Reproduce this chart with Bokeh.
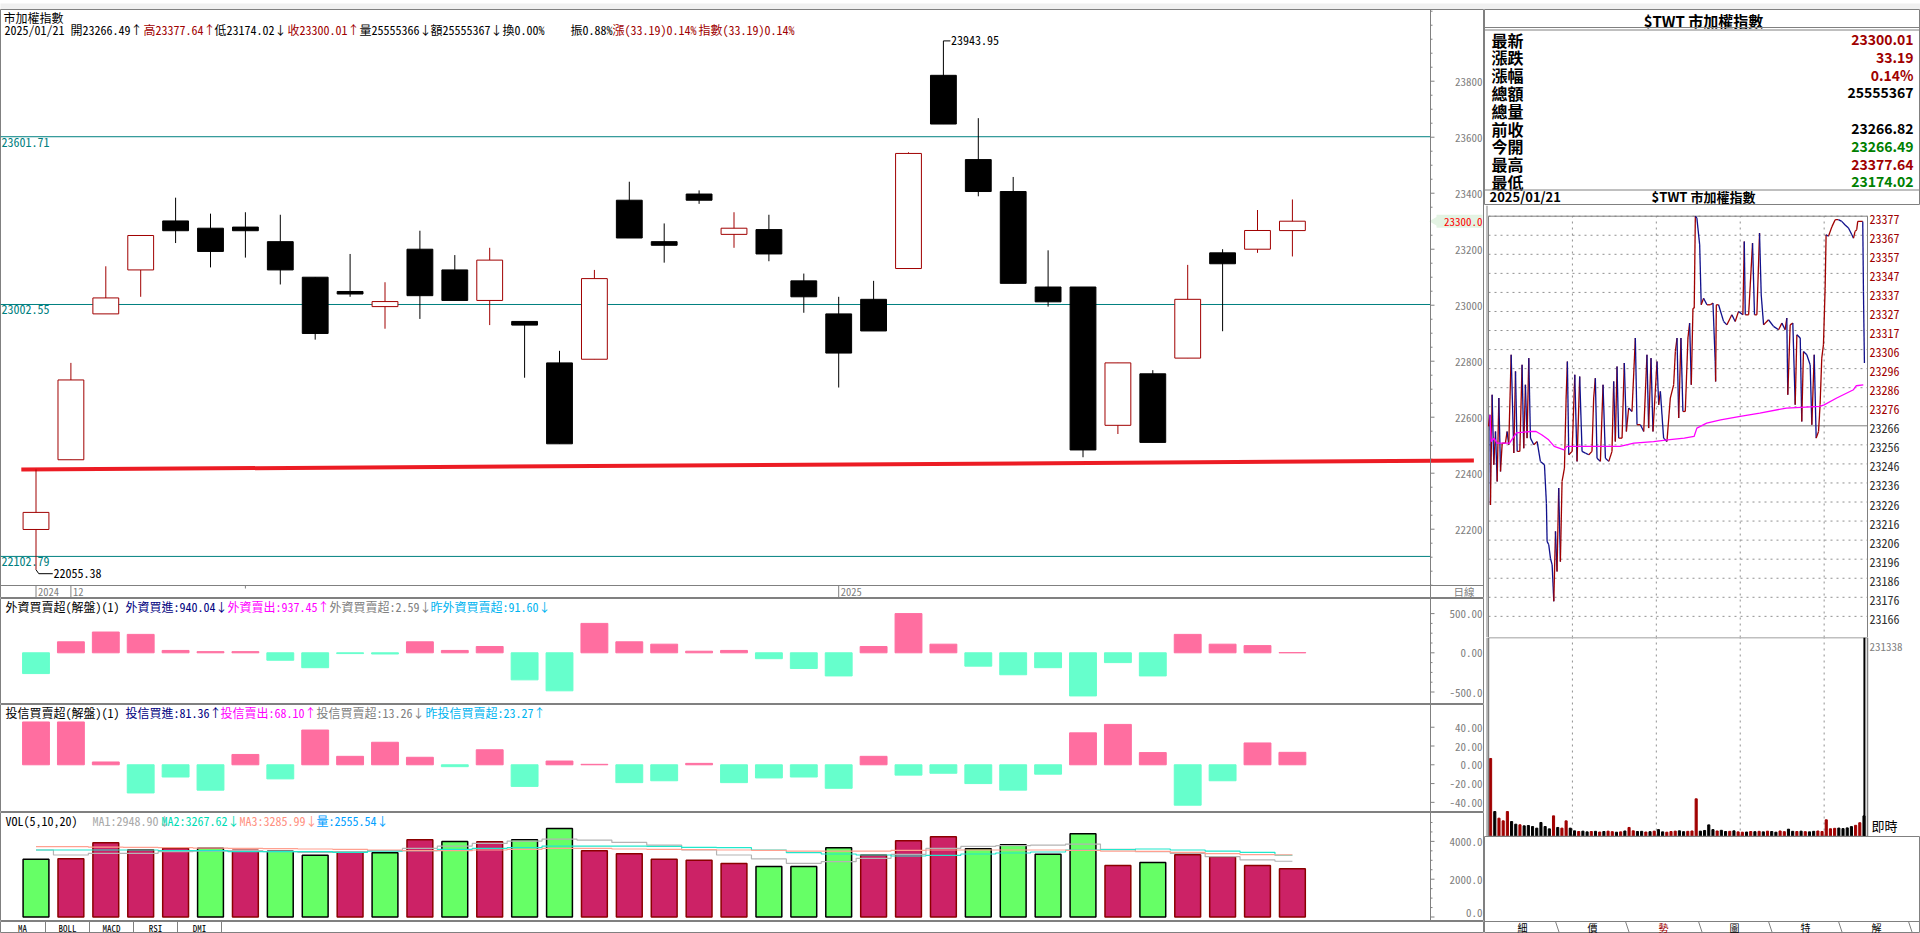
import numpy as np
from bokeh.plotting import figure
from bokeh.models import Range1d, ColumnDataSource, Span
from bokeh.layouts import column, row
from bokeh.embed import file_html
from bokeh.resources import INLINE
from bokeh.core.properties import value

FONT = "Noto Sans CJK TC"
MONO = "Noto Sans Mono CJK TC"
GRAY = "#808080"
DRED = "#a00000"

# ---------------- daily data (37 sessions, last = 2025/01/21) ----------------
opens = [22199, 22448, 22969, 23126, 23301, 23275, 23279, 23227, 23100, 23049,
         22995, 23200, 23126, 23017, 22942, 22794, 22807, 23375, 23227, 23397,
         23253, 23270, 23087, 22969, 23021, 23131, 23821, 23520, 23406, 23065,
         23065, 22571, 22755, 22811, 23187, 23200, 23266.49]
highs = [22413, 22794, 23139, 23250, 23384, 23327, 23332, 23323, 23100, 23183,
         23082, 23266, 23179, 23205, 22942, 22837, 23126, 23441, 23292, 23410,
         23332, 23323, 23113, 23030, 23087, 23546, 23943.95, 23668, 23458, 23196,
         23065, 22794, 22768, 23144, 23200, 23340, 23377.64]
lows = [22055.38, 22448, 22969, 23030, 23222, 23135, 23170, 23074, 22877, 23030,
        22916, 22951, 23017, 22929, 22741, 22505, 22807, 23240, 23152, 23362,
        23205, 23157, 22973, 22706, 22908, 23131, 23647, 23389, 23078, 22995,
        22457, 22540, 22510, 22811, 22907, 23187, 23174.02]
closes = [22260, 22733, 23026, 23249, 23266, 23192, 23266, 23126, 22899, 23040,
          23013, 23034, 23017, 23161, 22929, 22505, 23095, 23240, 23214, 23375,
          23275, 23183, 23030, 22829, 22908, 23542, 23647, 23406, 23078, 23012,
          22483, 22794, 22510, 23021, 23148, 23266.82, 23300.01]
date_tick_idx = [0, 1, 23]
date_tick_text = ["2024", "12", "2025"]
price_ticks = [22200, 22400, 22600, 22800, 23000, 23200, 23400, 23600, 23800]
ref_levels = [23601.71, 23002.55, 22102.79]
trend_x = [-0.42, 41.2]
trend_y = [22413, 22445]

foreign_net = [-265, 140, 265, 235, 30, 15, 15, -95, -190, -10, -15, 140, 30, 80, -345,
               -485, 375, 140, 110, 20, 30, -75, -200, -295, 80, 500, 110, -170, -280,
               -190, -550, -125, -295, 235, 110, 91.6, 2.59]
foreign_ticks = [500, 0, -500]
foreign_tick_text = ["500.00", "0.00", "-500.0"]
trust_net = [45.6, 45.6, 3, -30, -13, -27, 11, -15, 37, 9, 24, 8, -2, 16, -23, 4, 0.5,
             -19, -17, 1.5, -19, -14, -13, -25, 9, -11, -9, -20, -27, -10, 34, 43, 13,
             -43, -17, 23.27, 13.26]
trust_ticks = [40, 20, 0, -20, -40]
trust_tick_text = ["40.00", "20.00", "0.00", "-20.00", "-40.00"]
volumes = [3052, 3087, 3929, 3561, 3631, 3631, 3526, 3473, 3263, 3455, 3403, 4087, 3999,
           3982, 4087, 4683, 3508, 3350, 3052, 3000, 2824, 2666, 2666, 3666, 3280, 4034,
           4245, 3613, 3824, 3315, 4403, 2719, 2877, 3298, 3193, 2719, 2555.54]
vol_up = [0, 1, 1, 1, 1, 0, 1, 0, 0, 1, 0, 1, 0, 1, 0, 0, 1, 1, 1, 1, 1, 0, 0, 0, 1, 1, 1,
          0, 0, 0, 0, 1, 0, 1, 1, 1, 1]
vol_ma5 = [3543, 3280, 3368, 3368, 3455, 3490, 3508, 3455, 3420, 3455, 3508, 3631, 3754,
           3894, 4017, 4122, 4069, 3947, 3806, 3543, 3280, 3070, 2841, 2929, 3105, 3315,
           3631, 3736, 3771, 3806, 3859, 3578, 3455, 3368, 3192, 3017, 2948.90]
vol_ma10 = [3543, 3543, 3543, 3543, 3508, 3508, 3455, 3455, 3455, 3420, 3490, 3508, 3578,
            3631, 3666, 3754, 3754, 3754, 3736, 3683, 3666, 3543, 3403, 3333, 3280, 3227,
            3262, 3333, 3385, 3438, 3543, 3561, 3596, 3543, 3490, 3420, 3267.62]
vol_ma20 = [3719, 3719, 3701, 3683, 3666, 3648, 3631, 3613, 3596, 3578, 3543, 3508, 3508,
            3543, 3578, 3631, 3631, 3596, 3578, 3561, 3543, 3526, 3490, 3490, 3490, 3526,
            3543, 3543, 3543, 3543, 3526, 3490, 3473, 3420, 3350, 3297, 3285.99]
vol_ticks = [4000, 2000, 0]
vol_tick_text = ["4000.0", "2000.0", "0.0"]

# ---------------- intraday data (minutes after 09:00) ----------------
intra_min = [0.0, 1.0, 1.4, 2.6, 3.8, 5.0, 6.2, 7.4, 8.6, 9.8, 12.1, 13.3, 14.5, 16.2, 18.1,
             19.3, 20.5, 22.4, 24.0, 25.2, 26.4, 27.6, 28.8, 30.0, 32.4, 34.8, 37.1, 40.0,
             41.4, 41.9, 43.1, 44.3, 45.5, 46.7, 47.9, 49.0, 50.2, 51.4, 52.6, 54.3, 55.5,
             56.4, 57.4, 59.8, 61.7, 63.3, 65.2, 66.9, 69.3, 71.7, 74.0, 75.2, 76.4, 77.6,
             80.0, 81.9, 83.6, 86.0, 88.3, 89.5, 90.7, 91.9, 93.1, 95.5, 97.1, 98.6, 100.2,
             102.6, 105.0, 106.2, 108.6, 111.0, 113.3, 114.5, 116.2, 117.6, 120.5, 121.7,
             122.9, 125.2, 127.6, 130.0, 132.4, 133.6, 134.8, 136.0, 137.6, 139.0, 140.7,
             142.6, 143.8, 145.0, 146.2, 147.1, 147.9, 149.0, 151.0, 152.1, 153.8, 156.2,
             158.6, 160.5, 162.1, 162.4, 162.9, 164.5, 168.1, 170.5, 174.0, 176.4, 178.8,
             181.9, 182.9, 183.6, 186.0, 188.8, 190.2, 191.9, 193.8, 195.0, 196.7, 200.2,
             203.8, 207.4, 209.8, 212.1, 213.3, 214.0, 215.7, 217.6, 219.3, 220.5, 222.9,
             224.0, 225.2, 227.6, 230.0, 231.2, 232.9, 234.3, 236.0, 237.1, 238.3, 239.5,
             240.7, 241.4, 243.1, 245.5, 247.9, 250.2, 252.6, 255.0, 257.4, 259.8, 261.0,
             262.1, 263.3, 264.0, 267.6, 268.1, 268.8]
intra_px = [23266.5, 23272.6, 23225.0, 23283.2, 23246.2, 23263.8, 23237.4, 23281.5, 23242.7,
            23257.7, 23257.7, 23263.8, 23256.8, 23304.4, 23252.4, 23295.6, 23253.3, 23253.3,
            23299.1, 23255.0, 23288.5, 23260.3, 23302.6, 23260.3, 23256.8, 23258.5, 23248.0,
            23246.2, 23225.9, 23205.7, 23203.9, 23196.8, 23193.3, 23174.0, 23211.0, 23189.8,
            23233.9, 23195.0, 23237.4, 23244.4, 23281.5, 23300.8, 23251.5, 23253.3, 23293.8,
            23248.0, 23292.9, 23253.3, 23252.4, 23251.5, 23253.3, 23281.5, 23292.0, 23249.7,
            23248.0, 23288.5, 23249.7, 23248.0, 23253.3, 23290.3, 23258.5, 23298.2, 23260.3,
            23260.3, 23300.0, 23263.8, 23276.2, 23274.4, 23313.2, 23267.4, 23267.4, 23263.8,
            23304.4, 23265.6, 23302.6, 23263.8, 23300.8, 23277.9, 23285.0, 23260.3, 23258.5,
            23281.5, 23288.5, 23306.1, 23313.2, 23270.9, 23313.2, 23274.4, 23274.4, 23313.2,
            23321.1, 23288.5, 23329.0, 23329.0, 23377.6, 23376.6, 23362.5, 23330.8, 23334.3,
            23330.8, 23330.8, 23331.7, 23300.8, 23290.3, 23330.8, 23330.8, 23322.0, 23320.2,
            23325.5, 23322.0, 23327.3, 23325.5, 23364.3, 23325.5, 23325.5, 23363.4, 23325.5,
            23325.5, 23368.7, 23336.0, 23320.2, 23322.9, 23319.4, 23317.6, 23321.1, 23317.6,
            23323.8, 23283.2, 23320.2, 23321.1, 23277.9, 23315.0, 23313.2, 23269.1, 23306.1,
            23304.4, 23299.1, 23267.4, 23304.4, 23260.3, 23263.8, 23277.9, 23302.6, 23309.7,
            23339.6, 23367.8, 23367.0, 23372.0, 23375.8, 23375.8, 23374.9, 23373.0, 23371.4,
            23367.8, 23366.0, 23369.6, 23370.5, 23374.9, 23374.9, 23337.9, 23300.0]
avg_min = [1, 2, 4, 6, 15, 20, 30, 34, 38, 43, 47, 54, 56, 66, 94, 104, 118, 128, 140, 147,
           149, 156, 166, 180, 194, 213, 237, 240, 249, 261, 263, 268]
avg_px = [23272.6, 23258.5, 23260.3, 23257.7, 23257.7, 23263.1, 23263.8, 23263.8, 23262.1,
          23259.4, 23255.9, 23254.1, 23255.9, 23255.9, 23255.9, 23257.7, 23258.5, 23259.4,
          23260.3, 23261.2, 23265.6, 23268.2, 23270.0, 23271.8, 23273.5, 23276.2, 23277.1,
          23277.9, 23281.5, 23285.9, 23288.0, 23288.5]
intra_vol = [90700, 29000, 21300, 18200, 29000, 17400, 14300, 13600, 12400, 12800,
             11600, 9700, 16300, 11600, 8900, 24000, 10500, 9700, 18200, 9700,
             6600, 5800, 6200, 5400, 5800, 6000, 5200, 5800, 6200, 5600,
             5000, 5400, 6400, 10500, 6600, 5800, 6000, 5200, 5600, 6200,
             8000, 5400, 5000, 5800, 6200, 6600, 5600, 6000, 6400, 43800,
             6200, 7000, 13500, 8000, 6400, 7200, 5800, 6000, 6600, 5400,
             5000, 5200, 5800, 5600, 6000, 5400, 6200, 5800, 5000, 6400,
             5600, 8500, 6000, 5800, 6200, 5600, 5400, 6000, 6400, 5800,
             19400, 9000, 9500, 9800, 9200, 10000, 11500, 13000, 16000, 24000]
prev_close = 23266.82
day_high = 23377.64
session_minutes = 271
intra_vol_max = 231338
intra_tick_labels = ["23377", "23367", "23357", "23347", "23337", "23327", "23317", "23306",
                     "23296", "23286", "23276", "23266", "23256", "23246", "23236", "23226",
                     "23216", "23206", "23196", "23186", "23176", "23166"]
info_labels = ["最新", "漲跌", "漲幅", "總額", "總量", "前收", "今開", "最高", "最低"]
info_values = ["23300.01", "33.19", "0.14%", "25555367", "", "23266.82", "23266.49",
               "23377.64", "23174.02"]
info_colors = [DRED, DRED, DRED, "black", "black", "black", "#008000", DRED, "#008000"]


# ---------------- helpers ----------------
def make_fig(w, h, xr, yr, bg="white", outline=GRAY):
    p = figure(width=w, height=h, x_range=Range1d(*xr), y_range=Range1d(*yr),
               toolbar_location=None, output_backend="svg",
               x_axis_location=None, y_axis_location=None,
               min_border_top=0, min_border_right=0, min_border_bottom=0, min_border_left=0,
               background_fill_color=bg, border_fill_color=bg,
               outline_line_color=outline, outline_line_width=1)
    p.xgrid.visible = False
    p.ygrid.visible = False
    return p


class Geo:
    """maps pixel offsets inside a frame (from its top-left) to data values"""
    def __init__(self, xr, yr, fw, fh):
        self.xr, self.yr, self.fw, self.fh = xr, yr, fw, fh

    def x(self, px):
        return self.xr[0] + (self.xr[1] - self.xr[0]) * px / self.fw

    def y(self, py):
        return self.yr[1] - (self.yr[1] - self.yr[0]) * py / self.fh


def texts(p, xs, ys, txt, colors, size="12px", font=MONO, align="left", baseline="middle",
          bold=False, yoff=0):
    n_ = len(txt)
    src = ColumnDataSource(dict(x=list(xs), y=list(ys), t=list(txt), c=list(colors),
                                yo=[yoff] * n_ if np.isscalar(yoff) else list(yoff)))
    p.text(x="x", y="y", text="t", text_color="c", source=src, text_font=value(font),
           text_font_size=value(size), text_align=align, text_baseline=baseline,
           text_font_style="bold" if bold else "normal", y_offset="yo")


def header(p, geo, segs, py, size="12px"):
    texts(p, [geo.x(s[1]) for s in segs], [geo.y(py)] * len(segs), [s[0] for s in segs],
          [s[2] for s in segs], size=size)


AX_PX = 1430   # price-axis line position inside the left panels
LW = 1484


def price_axis(p, geo, ticks, labels, minors=(), yoff=0):
    xa, xt, xm, xl = geo.x(AX_PX), geo.x(AX_PX + 4), geo.x(AX_PX + 2), geo.x(LW - 2)
    p.add_layout(Span(location=xa, dimension="height", line_color=GRAY, line_width=1))
    p.segment([xa] * len(ticks), ticks, [xt] * len(ticks), ticks, line_color=GRAY)
    if len(minors):
        p.segment([xa] * len(minors), list(minors), [xm] * len(minors), list(minors),
                  line_color=GRAY)
    texts(p, [xl] * len(ticks), ticks, labels, [GRAY] * len(ticks), size="11px",
          align="right", yoff=yoff)


n = len(closes)
idx = np.arange(n)
o, h, l, c = map(np.array, (opens, highs, lows, closes))

# ---------------- left column ----------------
X0_PX, DX_PX = 35.5, 34.9
LX = (-X0_PX / DX_PX, (LW - X0_PX) / DX_PX)

# main candle panel (frame covers chart + price axis + date strip)
MY = (21952.5, 24056.1)
pm = make_fig(LW, 589, LX, MY)
gm = Geo(LX, MY, LW, 589)
y_strip = gm.y(576)
pm.add_layout(Span(location=y_strip, dimension="width", line_color=GRAY, line_width=1))
minor_p = [v for v in range(22000, 24051, 50) if v not in price_ticks]
price_axis(pm, gm, price_ticks, [str(v) for v in price_ticks], minor_p)

for v in ref_levels:
    pm.segment(LX[0], v, gm.x(AX_PX), v, line_color="#008080", line_width=1)
texts(pm, [gm.x(1)] * 3, ref_levels, [f"{v:.2f}" for v in ref_levels], ["#008080"] * 3,
      baseline="top", yoff=1)

pm.line(trend_x, trend_y, line_color="#ec1c24", line_width=4)

up = c >= o
dn = ~up
pm.segment(idx, h, idx, l, line_color=np.where(up, DRED, "black").tolist(), line_width=1)
pm.vbar(x=idx[up], bottom=o[up], top=c[up], width=0.74, fill_color="white",
        line_color=DRED, line_width=1)
pm.vbar(x=idx[dn], bottom=c[dn], top=o[dn], width=0.74, fill_color="black",
        line_color="black", line_width=1)

ih = int(np.argmax(h))
pm.line([ih, ih + 0.2], [h[ih], h[ih]], line_color="black", line_width=1)
il = int(np.argmin(l))
dy4 = 4 * (MY[1] - MY[0]) / 589
pm.line([il, il + 0.08, il + 0.48], [l[il], l[il] - dy4, l[il] - dy4], line_color="black",
        line_width=1)
texts(pm, [ih + 0.22, il + 0.5], [h[ih], l[il] - dy4], [f"{h[ih]:.2f}", f"{l[il]:.2f}"],
      ["black", "black"])

# date strip
y_date = gm.y(582)
pm.segment(date_tick_idx, [y_strip] * 3, date_tick_idx, [MY[0]] * 3, line_color=GRAY)
pm.segment([6], [y_strip], [6], [gm.y(579)], line_color=GRAY)
texts(pm, [t + 0.06 for t in date_tick_idx], [y_date] * 3, date_tick_text, [GRAY] * 3,
      size="10.5px")
texts(pm, [gm.x(1453)], [y_date], ["日線"], [GRAY], size="10.5px")

# last-close marker on the price axis
pm.rect(x=[gm.x(1459)], y=[closes[-1]], width=46, height=13, width_units="screen",
        height_units="screen", fill_color="#e3f3e3", line_color=None)
pm.scatter(x=[gm.x(1435)], y=[closes[-1]], marker="triangle", size=11, angle=np.pi / 2,
           fill_color="#e3f3e3", line_color=None)
texts(pm, [gm.x(LW - 2)], [closes[-1]], [f"{closes[-1]:.1f}"], ["#ff0000"], size="11px",
      align="right")

texts(pm, [gm.x(3)], [gm.y(7.5)], ["市加權指數"], ["black"])
header(pm, gm, [("2025/01/21 開23266.49↑", 4, "black"),
                ("高23377.64↑", 143, DRED),
                ("低23174.02↓", 214, "black"),
                ("收23300.01↑", 287, DRED),
                ("量25555366↓", 359, "black"),
                ("額25555367↓", 430, "black"),
                ("換0.00%", 502, "black"),
                ("振0.88%", 570, "black"),
                ("漲(33.19)0.14%", 612, DRED),
                ("指數(33.19)0.14%", 698, DRED)], 19.5)

PINK, AQUA = "#ff6ea0", "#66ffcc"

# foreign investors panel
FY = (-659.4, 692.6)
pf = make_fig(LW, 106, LX, FY)
gf = Geo(LX, FY, LW, 106)
price_axis(pf, gf, foreign_ticks, foreign_tick_text, [-375, -250, -125, 125, 250, 375])
fcol = np.where(np.array(foreign_net) >= 0, PINK, AQUA).tolist()
pf.vbar(x=idx, bottom=0, top=foreign_net, width=0.77, fill_color=fcol, line_color=fcol)
header(pf, gf, [("外資買賣超(解盤)(1)", 5, "black"),
                ("外資買進:940.04↓", 125, "#000080"),
                ("外資賣出:937.45↑", 227, "#ff00ff"),
                ("外資買賣超:2.59↓", 329, GRAY),
                ("昨外資買賣超:91.60↓", 430, "#00b4f0")], 7.5)

# investment trust panel
TY = (-50.8, 64.2)
pt = make_fig(LW, 108, LX, TY)
gt = Geo(LX, TY, LW, 108)
price_axis(pt, gt, trust_ticks, trust_tick_text)
tcol = np.where(np.array(trust_net) >= 0, PINK, AQUA).tolist()
pt.vbar(x=idx, bottom=0, top=trust_net, width=0.77, fill_color=tcol, line_color=tcol)
header(pt, gt, [("投信買賣超(解盤)(1)", 5, "black"),
                ("投信買進:81.36↑", 125, "#000080"),
                ("投信賣出:68.10↑", 220, "#ff00ff"),
                ("投信買賣超:13.26↓", 316, GRAY),
                ("昨投信買賣超:23.27↑", 425, "#00b4f0")], 7.5)

# volume panel
VY = (-238, 5528)
pv = make_fig(LW, 109, LX, VY)
gv = Geo(LX, VY, LW, 109)
price_axis(pv, gv, vol_ticks, vol_tick_text, [500, 1000, 1500, 2500, 3000, 3500, 4500, 5000],
           yoff=[0, 0, -5])
vu = np.array(vol_up) == 1
vfill = np.where(vu, "#cc2266", "#66ff66").tolist()
vline = np.where(vu, "#8b0000", "black").tolist()
pv.vbar(x=idx, bottom=0, top=volumes, width=0.74, fill_color=vfill, line_color=vline,
        line_width=1.5)
pv.step(idx, vol_ma5, mode="center", line_color="#b4b4b4", line_width=1.2)
pv.step(idx, vol_ma10, mode="center", line_color="#20e8cc", line_width=1.2)
pv.step(idx, vol_ma20, mode="center", line_color="#ffa090", line_width=1.2)
header(pv, gv, [("VOL(5,10,20)", 5, "black"),
                ("MA1:2948.90↓", 92, "#a8a8a8"),
                ("MA2:3267.62↓", 161, "#00dcb4"),
                ("MA3:3285.99↓", 239, "#ff9080"),
                ("量:2555.54↓", 316, "#00a0ff")], 7.5)

# bottom tabs (left)
pL = make_fig(LW, 12, (0, LW), (12, 0))
tabs_l = ["MA", "BOLL", "MACD", "RSI", "DMI"]
pL.segment([45, 89, 133, 177, 221], [0] * 5, [45, 89, 133, 177, 221], [12] * 5,
           line_color=GRAY)
texts(pL, [22, 67, 111, 155, 199], [6.5] * 5, tabs_l, ["black"] * 5, size="9px",
      align="center")

left = column(pm, pf, pt, pv, pL)

# ---------------- right column ----------------
RW = 436
pinfo = make_fig(RW, 196, (0, RW), (196, 0))
texts(pinfo, [219], [10.5], ["$TWT 市加權指數"], ["black"], size="15px", font=FONT,
      align="center", bold=True)
for yy in (18, 20.5, 180.5):
    pinfo.add_layout(Span(location=yy, dimension="width", line_color=GRAY, line_width=1))
row_y = [30 + 17.8 * i for i in range(len(info_labels))]
texts(pinfo, [7] * len(row_y), row_y, info_labels, ["black"] * len(row_y), size="16px",
      font=FONT, bold=True)
texts(pinfo, [429] * len(row_y), row_y, info_values, info_colors, size="14px", font=FONT,
      bold=True, align="right")
texts(pinfo, [5], [187], ["2025/01/21"], ["black"], size="13px", font=FONT, bold=True)
texts(pinfo, [219], [187], ["$TWT 市加權指數"], ["black"], size="13px", font=FONT,
      bold=True, align="center")

# intraday price (frame covers box + label strip)
IPPM = 379 / session_minutes
RX = (-4 / IPPM, (RW - 4) / IPPM)
PPP = (425.3 - 215.7) / (day_high - prev_close)
IY = (prev_close - (637 - 425.3) / PPP, day_high + (215.7 - 205) / PPP)
pi = make_fig(RW, 432, RX, IY, outline=None)
istep = (day_high - prev_close) / 11
glev = [prev_close + k * istep for k in range(-10, 12) if k != 0]
pi.segment([0] * len(glev), glev, [session_minutes] * len(glev), glev,
           line_color="#909090", line_dash="dotted", line_width=1)
hours = [60, 120, 180, 240]
pi.segment(hours, [IY[0]] * 4, hours, [day_high] * 4, line_color="#909090",
           line_dash="dotted", line_width=1)
pi.segment([0], [prev_close], [session_minutes], [prev_close], line_color=GRAY, line_width=1)
pi.quad(left=[0], right=[session_minutes], bottom=[IY[0]], top=[day_high], fill_color=None,
        line_color=GRAY, line_width=1)
im, ip = np.array(intra_min), np.array(intra_px)
seg_col = np.where(np.diff(ip) >= 0, "#a00000", "#10108c").tolist()
pi.segment(im[:-1], ip[:-1], im[1:], ip[1:], line_color=seg_col, line_width=1.3)
pi.line(avg_min, avg_px, line_color="#ff00ff", line_width=1.3)
tick_y = [prev_close + (11 - k) * istep for k in range(len(intra_tick_labels))]
tick_c = [DRED if k < 11 else "#303030" for k in range(len(intra_tick_labels))]
texts(pi, [session_minutes + 2 / IPPM] * len(tick_y), tick_y, intra_tick_labels, tick_c,
      size="12px", yoff=3)
pi.add_layout(Span(location=RX[0] + 2.5 / IPPM, dimension="height", line_color=GRAY,
                   line_width=1))

# intraday volume
piv = make_fig(RW, 199, RX, (0, intra_vol_max), outline=None)
piv.segment(hours, [0] * 4, hours, [intra_vol_max] * 4, line_color="#909090",
            line_dash="dotted", line_width=1)
slot_x = np.arange(len(intra_vol)) * 3 + 1.5
p0 = np.interp(slot_x - 1.5, im, ip)
p1 = np.interp(slot_x + 1.5, im, ip)
ivc = np.where(p1 >= p0, "#a00000", "black").tolist()
piv.vbar(x=slot_x, bottom=0, top=intra_vol, width=1.5, fill_color=ivc, line_color=ivc)
piv.quad(left=[0], right=[session_minutes], bottom=[0], top=[intra_vol_max], fill_color=None,
         line_color=GRAY, line_width=1.5)
piv.segment([intra_min[-1]], [0], [intra_min[-1]], [intra_vol_max], line_color="black",
            line_width=2)
gi = Geo(RX, (0, intra_vol_max), RW, 199)
texts(piv, [gi.x(385)], [gi.y(9)], [str(intra_vol_max)], [GRAY], size="11px")
texts(piv, [gi.x(387)], [gi.y(188)], ["即時"], ["black"], size="13px")
piv.add_layout(Span(location=RX[0] + 2.5 / IPPM, dimension="height", line_color=GRAY,
                    line_width=1))

# bottom tabs (right)
pbot = make_fig(RW, 97, (0, RW), (97, 0))
pbot.add_layout(Span(location=85, dimension="width", line_color=GRAY, line_width=1))
sep_x = [73, 143, 216, 286, 356, 426]
pbot.segment([s - 2 for s in sep_x], [85] * 6, [s + 2 for s in sep_x], [97] * 6,
             line_color=GRAY)
texts(pbot, [38, 108, 179, 250, 321, 392], [90.5] * 6, ["細", "價", "勢", "圖", "特", "解"],
      ["black", "black", DRED, "black", "black", "black"], size="10px", font=FONT,
      align="center")

right = column(pinfo, pi, piv, pbot)

strip = make_fig(LW + RW, 9, (0, 1), (0, 1), bg="#f0f0f0", outline=None)

root = column(strip, row(left, right))
open("out.html", "w").write(file_html(root, INLINE))
